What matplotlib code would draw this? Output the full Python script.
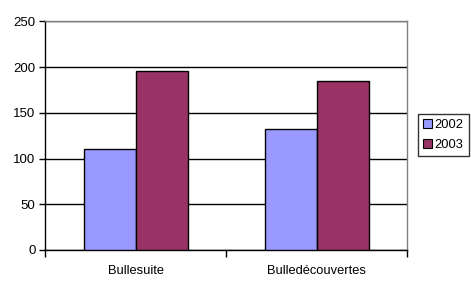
import numpy as np
import matplotlib
matplotlib.use("Agg")
import matplotlib.pyplot as plt
from matplotlib.patches import Patch

categories = ["Bullesuite", "Bulledécouvertes"]
series_names = ["2002", "2003"]
values_2002 = [110, 132]
values_2003 = [196, 185]
colors = ["#9999FF", "#993366"]

plt.rcParams["font.family"] = ["Liberation Sans", "DejaVu Sans"]

fig = plt.figure(figsize=(4.71, 2.89), dpi=100)
W, H = 471, 289
ax = fig.add_axes([45.3 / W, (H - 250) / H, 362 / W, 228.7 / H])

x = np.arange(len(categories))
bw = 1 / 3.5
for i, (vals, col, name) in enumerate(zip([values_2002, values_2003], colors, series_names)):
    ax.bar(x + (i - 0.5) * bw, vals, width=bw, color=col, edgecolor="black",
           linewidth=1.0, zorder=3, label=name)

ax.set_xlim(-0.5, len(categories) - 0.5)
ax.set_ylim(0, 250)
ax.set_yticks(np.arange(0, 251, 50))
ax.yaxis.grid(True, color="black", linewidth=1.0, zorder=1)
ax.set_axisbelow(True)

ax.set_xticks(x)
ax.set_xticklabels(categories, fontsize=9.3)
ax.tick_params(axis="x", length=0, pad=11)
ax.set_xticks(np.arange(-0.5, len(categories), 1), minor=True)
ax.tick_params(axis="x", which="minor", length=5, width=1, color="black")
ax.tick_params(axis="y", length=4, width=1, labelsize=9.5, pad=3)

for s in ["left", "bottom"]:
    ax.spines[s].set_color("black")
    ax.spines[s].set_linewidth(1.0)
for s in ["top", "right"]:
    ax.spines[s].set_color("#808080")
    ax.spines[s].set_linewidth(1.0)

handles = [Patch(facecolor=c, edgecolor="black", linewidth=0.8) for c in colors]
leg = fig.legend(handles, series_names, loc="upper left",
                 bbox_to_anchor=(418 / W, 1 - 114 / H), fontsize=9.3,
                 frameon=True, fancybox=False, handlelength=0.65, handleheight=0.65,
                 handletextpad=0.25, borderpad=0.4, labelspacing=0.6, borderaxespad=0)
leg.get_frame().set_edgecolor("black")
leg.get_frame().set_linewidth(1.0)

fig.savefig("out.png", dpi=100)
